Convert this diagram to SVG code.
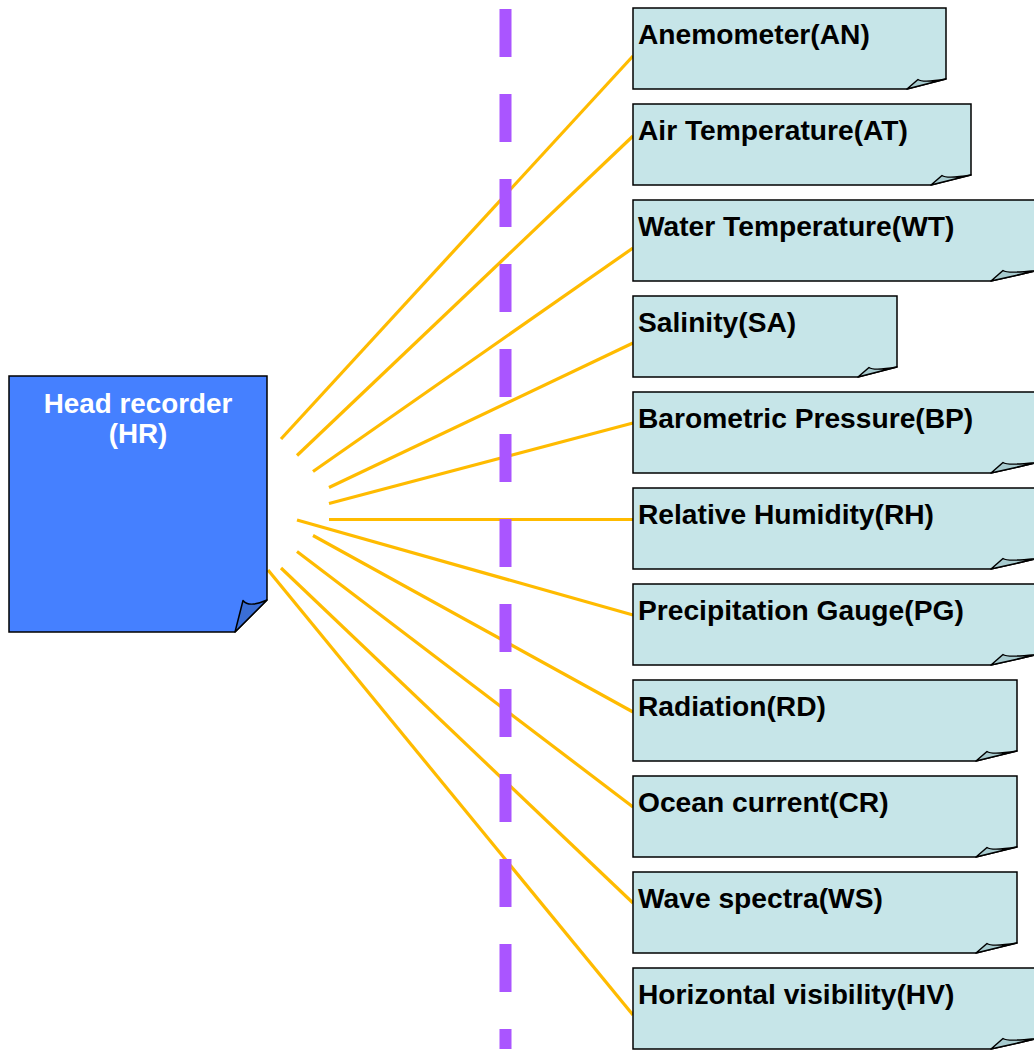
<svg xmlns="http://www.w3.org/2000/svg" width="1034" height="1051" viewBox="0 0 1034 1051">
<style>
.hr{fill:#4580FF;stroke:#000;stroke-width:1.5}
.hrflap{fill:#3A6ED6;stroke:#000;stroke-width:1.5;stroke-linejoin:round}
.sn{fill:#C6E5E8;stroke:#000;stroke-width:1.5}
.flap{fill:#A7CBCF;stroke:#000;stroke-width:1.5;stroke-linejoin:round}
.lbl{font-family:"Liberation Sans",Arial,sans-serif;font-weight:bold;font-size:28.2px;fill:#000}
.hrl{font-family:"Liberation Sans",Arial,sans-serif;font-weight:bold;font-size:27.8px;fill:#fff;text-anchor:middle}
.con{stroke:#FFBB00;stroke-width:3.2;fill:none}
.dash{stroke:#AA55FF;stroke-width:12;stroke-dasharray:48 37;fill:none}
</style>
<rect width="1034" height="1051" fill="#fff"/>
<g id="connectors">
<line class="con" x1="281" y1="439" x2="633" y2="56"/>
<line class="con" x1="297" y1="455.5" x2="633" y2="136"/>
<line class="con" x1="313" y1="471.5" x2="633" y2="248"/>
<line class="con" x1="329" y1="487.5" x2="633" y2="343"/>
<line class="con" x1="329" y1="503.5" x2="633" y2="423"/>
<line class="con" x1="329" y1="519.5" x2="633" y2="519.5"/>
<line class="con" x1="297" y1="520" x2="633" y2="615"/>
<line class="con" x1="313" y1="535.5" x2="633" y2="712"/>
<line class="con" x1="297" y1="551.5" x2="633" y2="807"/>
<line class="con" x1="281" y1="568" x2="633" y2="903"/>
<line class="con" x1="268" y1="570" x2="633" y2="1015"/>
</g>
<line id="divider" class="dash" x1="505.5" y1="9" x2="505.5" y2="1049"/>
<g id="HR">
<path class="hr" d="M9,376 H267 V600 L235,632 H9 Z"/>
<path class="hrflap" d="M235,632 L243,600.5 Q249,608 267,600 Z"/>
<text class="hrl" x="138" y="413">Head recorder</text>
<text class="hrl" x="138" y="443">(HR)</text>
</g>
<g id="AN">
<path class="sn" d="M633,8 H946 V79 L907,89 H633 Z"/>
<path class="flap" d="M907,89 L918,79.5 Q923,83 946,79 Z"/>
<text class="lbl" x="638" y="43.5">Anemometer(AN)</text>
</g>
<g id="AT">
<path class="sn" d="M633,104 H971 V175 L931,185 H633 Z"/>
<path class="flap" d="M931,185 L942,175.5 Q947,179 971,175 Z"/>
<text class="lbl" x="638" y="139.5">Air Temperature(AT)</text>
</g>
<g id="WT">
<path class="sn" d="M633,200 H1040 V270 L991,281 H633 Z"/>
<path class="flap" d="M991,281 L1003,270.5 Q1008,274 1040,270 Z"/>
<text class="lbl" x="638" y="235.5">Water Temperature(WT)</text>
</g>
<g id="SA">
<path class="sn" d="M633,296 H897 V367 L858,377 H633 Z"/>
<path class="flap" d="M858,377 L869,367.5 Q874,371 897,367 Z"/>
<text class="lbl" x="638" y="331.5">Salinity(SA)</text>
</g>
<g id="BP">
<path class="sn" d="M633,392 H1040 V462 L991,473 H633 Z"/>
<path class="flap" d="M991,473 L1003,462.5 Q1008,466 1040,462 Z"/>
<text class="lbl" x="638" y="427.5">Barometric Pressure(BP)</text>
</g>
<g id="RH">
<path class="sn" d="M633,488 H1040 V558 L991,569 H633 Z"/>
<path class="flap" d="M991,569 L1003,558.5 Q1008,562 1040,558 Z"/>
<text class="lbl" x="638" y="523.5">Relative Humidity(RH)</text>
</g>
<g id="PG">
<path class="sn" d="M633,584 H1040 V654 L991,665 H633 Z"/>
<path class="flap" d="M991,665 L1003,654.5 Q1008,658 1040,654 Z"/>
<text class="lbl" x="638" y="619.5">Precipitation Gauge(PG)</text>
</g>
<g id="RD">
<path class="sn" d="M633,680 H1017 V751 L976,761 H633 Z"/>
<path class="flap" d="M976,761 L987,751.5 Q992,755 1017,751 Z"/>
<text class="lbl" x="638" y="715.5">Radiation(RD)</text>
</g>
<g id="CR">
<path class="sn" d="M633,776 H1017 V847 L976,857 H633 Z"/>
<path class="flap" d="M976,857 L987,847.5 Q992,851 1017,847 Z"/>
<text class="lbl" x="638" y="811.5">Ocean current(CR)</text>
</g>
<g id="WS">
<path class="sn" d="M633,872 H1017 V943 L976,953 H633 Z"/>
<path class="flap" d="M976,953 L987,943.5 Q992,947 1017,943 Z"/>
<text class="lbl" x="638" y="907.5">Wave spectra(WS)</text>
</g>
<g id="HV">
<path class="sn" d="M633,968 H1040 V1038 L991,1049 H633 Z"/>
<path class="flap" d="M991,1049 L1003,1038.5 Q1008,1042 1040,1038 Z"/>
<text class="lbl" x="638" y="1003.5">Horizontal visibility(HV)</text>
</g>
</svg>
